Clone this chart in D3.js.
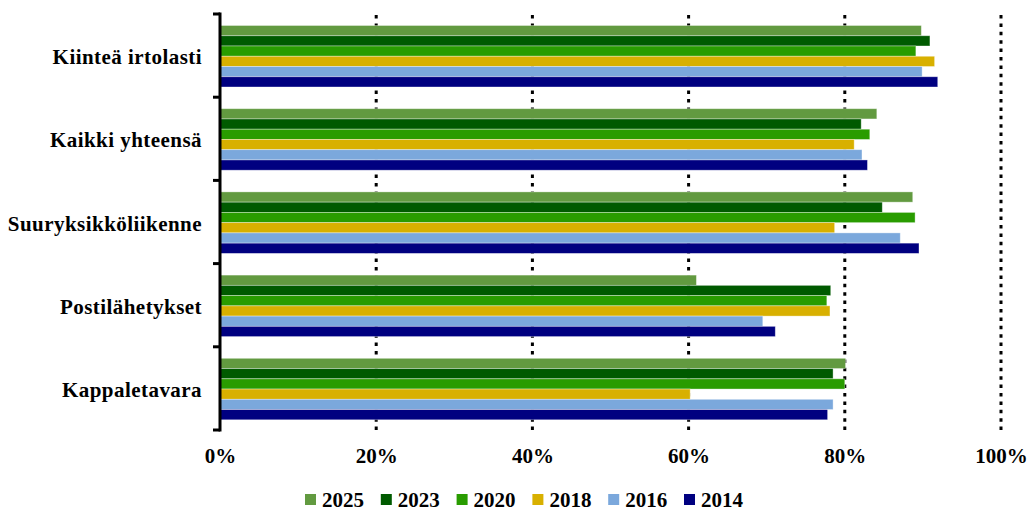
<!DOCTYPE html>
<html>
<head>
<meta charset="utf-8">
<script src="https://cdn.jsdelivr.net/npm/d3@7"></script>
<style>
  body { margin: 0; background: #fff; }
</style>
</head>
<body>
<script>
// categories top to bottom
var categories = ["Kiinteä irtolasti", "Kaikki yhteensä", "Suuryksikköliikenne", "Postilähetykset", "Kappaletavara"];
var years = ["2025", "2023", "2020", "2018", "2016", "2014"];
var yearColors = ["#629a40", "#005a00", "#299c00", "#d8b000", "#7ba8dc", "#000080"];

// share (%) per year, same order as categories
var v2025 = [89.8, 84.1, 88.7, 61.0, 80.1];
var v2023 = [90.9, 82.1, 84.8, 78.2, 78.5];
var v2020 = [89.1, 83.2, 89.0, 77.7, 80.0];
var v2018 = [91.5, 81.2, 78.7, 78.1, 60.2];
var v2016 = [89.9, 82.2, 87.1, 69.5, 78.5];
var v2014 = [91.9, 82.9, 89.5, 71.1, 77.8];
var xTicks = [0, 20, 40, 60, 80, 100];

var seriesValues = [v2025, v2023, v2020, v2018, v2016, v2014];

var width = 1036, height = 510;
var plotLeft = 220, plotRight = 1001, plotTop = 14, plotBottom = 430;
var serif = "'Liberation Serif', 'Times New Roman', serif";

var svg = d3.select("body").append("svg")
    .attr("width", width)
    .attr("height", height)
    .attr("font-family", serif)
    .attr("font-weight", "bold");

var x = d3.scaleLinear().domain([0, 100]).range([plotLeft, plotRight]);
var y = d3.scaleBand().domain(categories).range([plotTop, plotBottom]).padding(0);
var yInner = d3.scaleBand().domain(years).range([11.5, 73]).padding(0);
var color = d3.scaleOrdinal().domain(years).range(yearColors);

// dotted gridlines (behind bars)
svg.append("g").selectAll("line")
    .data(xTicks.filter(function(d) { return d > 0; }))
  .enter().append("line")
    .attr("x1", function(d) { return x(d); })
    .attr("x2", function(d) { return x(d); })
    .attr("y1", plotTop + 1)
    .attr("y2", plotBottom)
    .attr("stroke", "#000")
    .attr("stroke-width", 3)
    .attr("stroke-dasharray", "3.5,4.9");

// bars
var rows = [];
categories.forEach(function(c, ci) {
    years.forEach(function(yr, yi) {
        rows.push({cat: c, year: yr, value: seriesValues[yi][ci]});
    });
});

svg.append("g").selectAll("rect")
    .data(rows)
  .enter().append("rect")
    .attr("x", x(0))
    .attr("y", function(d) { return y(d.cat) + yInner(d.year); })
    .attr("width", function(d) { return x(d.value) - x(0); })
    .attr("height", yInner.bandwidth())
    .attr("fill", function(d) { return color(d.year); })
    .attr("stroke", "rgba(255,255,255,0.45)")
    .attr("stroke-width", 0.8);

// left axis: line + ticks at category boundaries
var boundaries = categories.map(function(c) { return y(c); }).concat([plotBottom]);
var axisG = svg.append("g");
axisG.append("line")
    .attr("x1", plotLeft).attr("x2", plotLeft)
    .attr("y1", plotTop - 1.5).attr("y2", plotBottom + 1.5)
    .attr("stroke", "#000").attr("stroke-width", 3);
axisG.selectAll(".tick")
    .data(boundaries)
  .enter().append("line")
    .attr("class", "tick")
    .attr("x1", plotLeft - 7).attr("x2", plotLeft)
    .attr("y1", function(d) { return d; })
    .attr("y2", function(d) { return d; })
    .attr("stroke", "#000").attr("stroke-width", 3);

// category labels
svg.append("g").selectAll("text")
    .data(categories)
  .enter().append("text")
    .attr("x", 202)
    .attr("y", function(d) { return y(d) + y.bandwidth() / 2 + 8.5; })
    .attr("text-anchor", "end")
    .attr("font-family", serif)
    .attr("font-weight", "bold")
    .attr("font-size", 21)
    .attr("letter-spacing", 0.45)
    .attr("fill", "#000")
    .text(function(d) { return d; });

// x axis labels
var xAxis = svg.append("g")
    .attr("transform", "translate(0," + plotBottom + ")")
    .call(d3.axisBottom(x).tickValues(xTicks).tickSize(0)
        .tickFormat(function(d) { return d + "%"; }));
xAxis.attr("font-family", serif).attr("font-weight", "bold");
xAxis.select(".domain").remove();
xAxis.selectAll("text")
    .attr("font-size", 21)
    .attr("fill", "#000")
    .attr("dy", 0)
    .attr("y", 33);

// legend
var legend = svg.append("g").selectAll("g")
    .data(years)
  .enter().append("g")
    .attr("transform", function(d, i) { return "translate(" + (305 + i * 75.8) + ",494)"; });
legend.append("rect")
    .attr("width", 11).attr("height", 11)
    .attr("fill", function(d) { return color(d); });
legend.append("text")
    .attr("x", 17).attr("y", 12.5)
    .attr("font-size", 21)
    .attr("fill", "#000")
    .text(function(d) { return d; });
</script>
</body>
</html>
